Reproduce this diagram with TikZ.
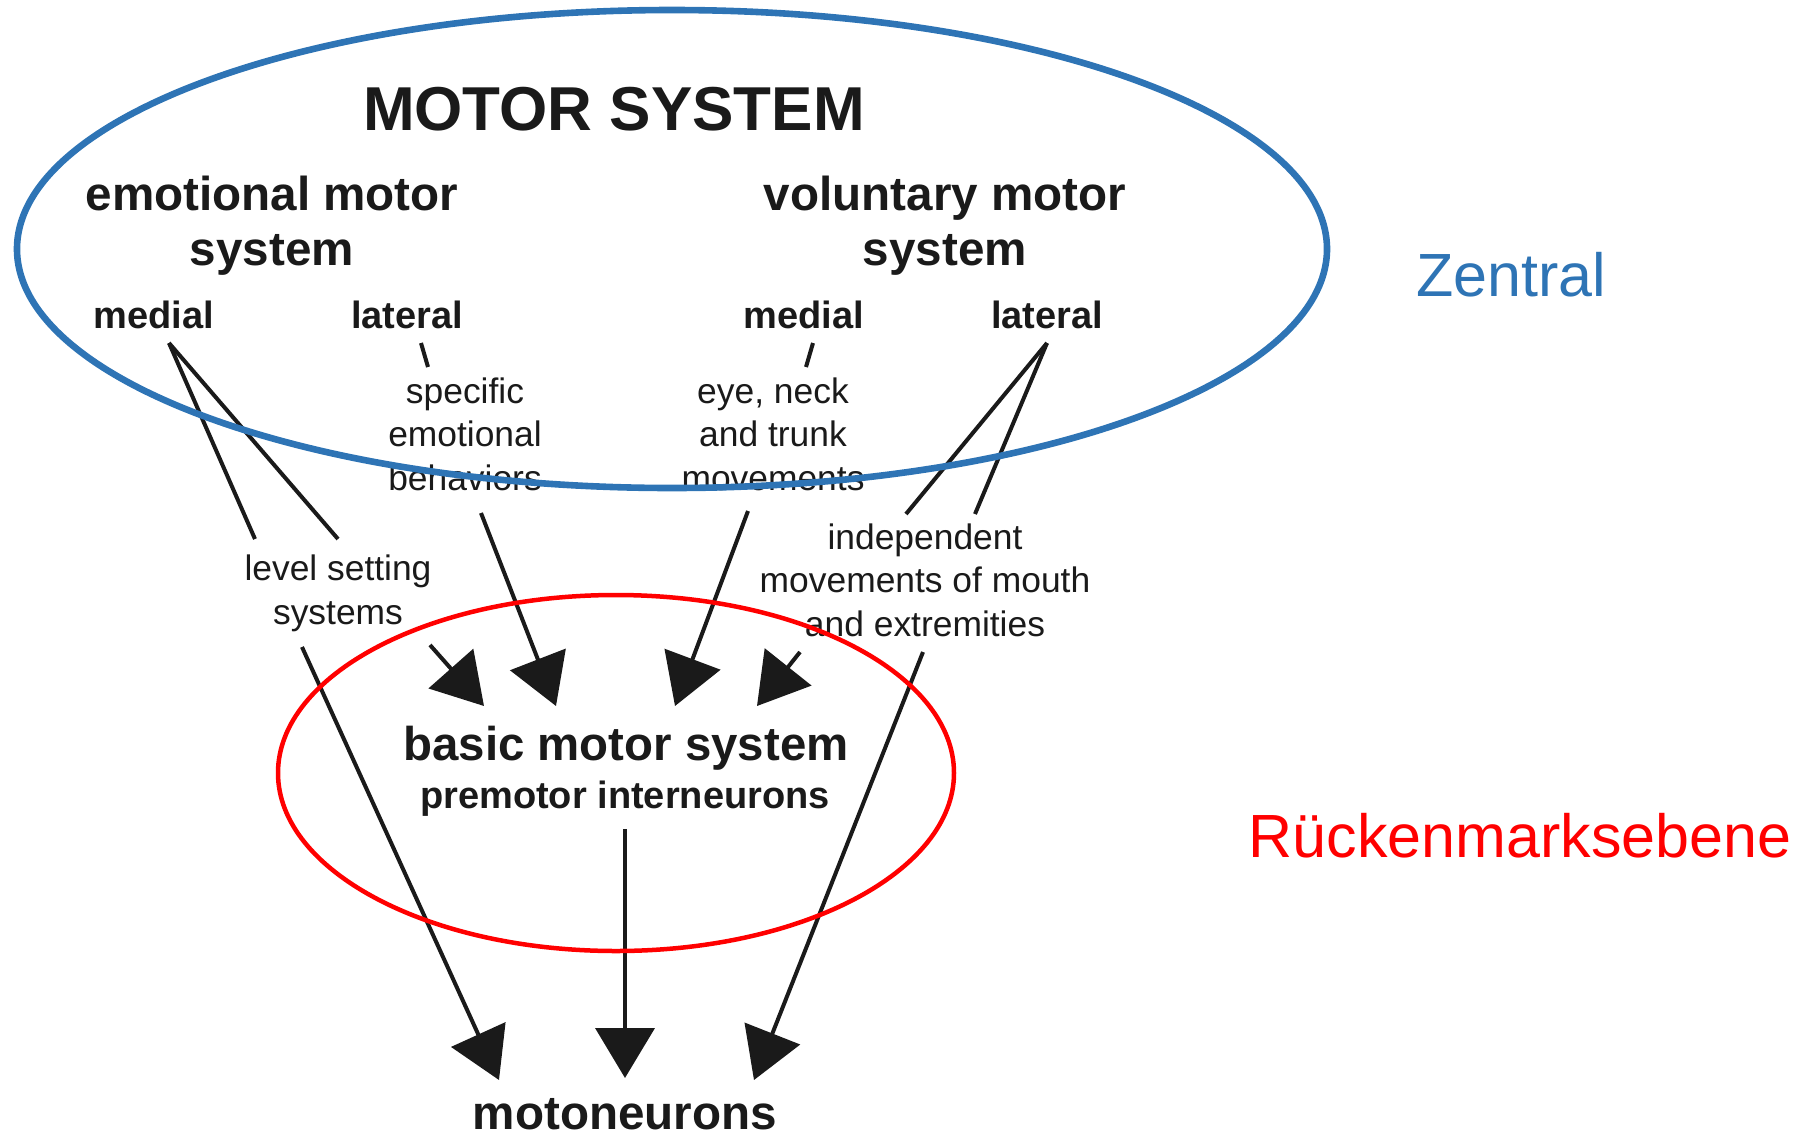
\documentclass[tikz,border=0pt]{standalone}
\usepackage{fontspec}
\setmainfont{Liberation Sans}
\usepackage{xcolor}
\usepackage{tikz}
\usetikzlibrary{arrows.meta}
\usetikzlibrary{calc}
\definecolor{ink}{HTML}{1A1A1A}
\definecolor{zentralblue}{HTML}{2E74B5}
\tikzstyle{heading}=[font=\bfseries\fontsize{31}{36}\selectfont,text=ink,inner sep=0pt]
\tikzstyle{branch}=[font=\bfseries\fontsize{23.8}{27.5}\selectfont,text=ink,align=center,inner sep=0pt]
\tikzstyle{sidelabel}=[font=\bfseries\fontsize{19}{22}\selectfont,text=ink,inner sep=0pt]
\tikzstyle{effect}=[font=\fontsize{17.7}{21.75}\selectfont,text=ink,align=center,inner sep=0pt]
\tikzstyle{areaname}=[font=\fontsize{30.5}{36}\selectfont,inner sep=0pt]
\tikzstyle{stem} = [draw=ink,line width=2pt]
\tikzstyle{arrowedge} = [draw=ink,line width=2pt,-{Triangle[length=25pt,width=29.5pt]}]
\tikzstyle{arealine} = [line width=3.3pt]

\begin{document}
\begin{tikzpicture}[x=0.5pt,y=-0.5pt]
  \useasboundingbox (0,0) rectangle (1800,1136);

  % text of the upper (central) part, multi-line nodes sit on their last line
  \node[heading,anchor=base] (title) at (614,130) {MOTOR SYSTEM};
  \node[branch,anchor=base] (emo) at (272,265) {emotional motor\\system};
  \node[branch,anchor=base] (vol) at (945,265) {voluntary motor\\system};

  \foreach \x/\name/\label in {154/emomed/medial, 407/emolat/lateral, 804/volmed/medial, 1047/vollat/lateral}
          \node[sidelabel,anchor=base] (\name) at (\x,328) {\label};

  \node[effect,anchor=base] (specific) at (465,490) {specific\\emotional\\behaviors};
  \node[effect,anchor=base] (eyeneck) at (773,490) {eye, neck\\and trunk\\movements};
  \node[effect,anchor=base] (levelset) at (338,624) {level setting\\systems};
  \node[effect,anchor=base] (indep) at (925,636) {independent\\movements of mouth\\and extremities};

  % spinal part
  \node[font=\bfseries\fontsize{23.7}{28}\selectfont,text=ink,anchor=base,inner sep=0pt] (basic) at (626,760) {basic motor system};
  \node[sidelabel,anchor=base] (premotor) at (625,808) {premotor interneurons};
  \node[branch,anchor=base] (motoneurons) at (625,1129) {motoneurons};

  \node[areaname,text=zentralblue,anchor=base] (zentral) at (1511,296) {Zentral};
  \node[areaname,text=red,anchor=base] (rueckenmark) at (1520,857) {Rückenmarksebene};

  % line ends
  \foreach \x/\y/\name in {169/343/emoapex, 255/539/emoA, 338/539/emoB, 421/343/emolatA, 428/367/emolatB,
                           813/343/volmedA, 806/367/volmedB, 1047/343/volapex, 906/514/volA, 975/514/volB,
                           481/513/specA, 556/706/specB, 748/511/eyeA, 675/706/eyeB,
                           430/645/lvlA, 484/706/lvlB, 302/647/lvlC, 499/1080/lvlD,
                           800/652/indA, 757/706/indB, 923/652/indC, 754/1080/indD,
                           625/829/basA, 625/1078/basB}
          \coordinate (\name) at (\x,\y);

  \foreach \source/\dest in {emoapex/emoA, emoapex/emoB, emolatA/emolatB, volmedA/volmedB, volapex/volA, volapex/volB}
         \path[stem] (\source) -- (\dest);

  \foreach \source/\dest in {specA/specB, eyeA/eyeB, lvlA/lvlB, lvlC/lvlD, indA/indB, indC/indD, basA/basB}
         \path[arrowedge] (\source) -- (\dest);

  % the two levels
  \draw[arealine,draw=zentralblue] (672,249) ellipse [x radius=655, y radius=239];
  \draw[arealine,draw=red,line width=2.25pt] (616,773) ellipse [x radius=338, y radius=178];

\end{tikzpicture}
\end{document}
